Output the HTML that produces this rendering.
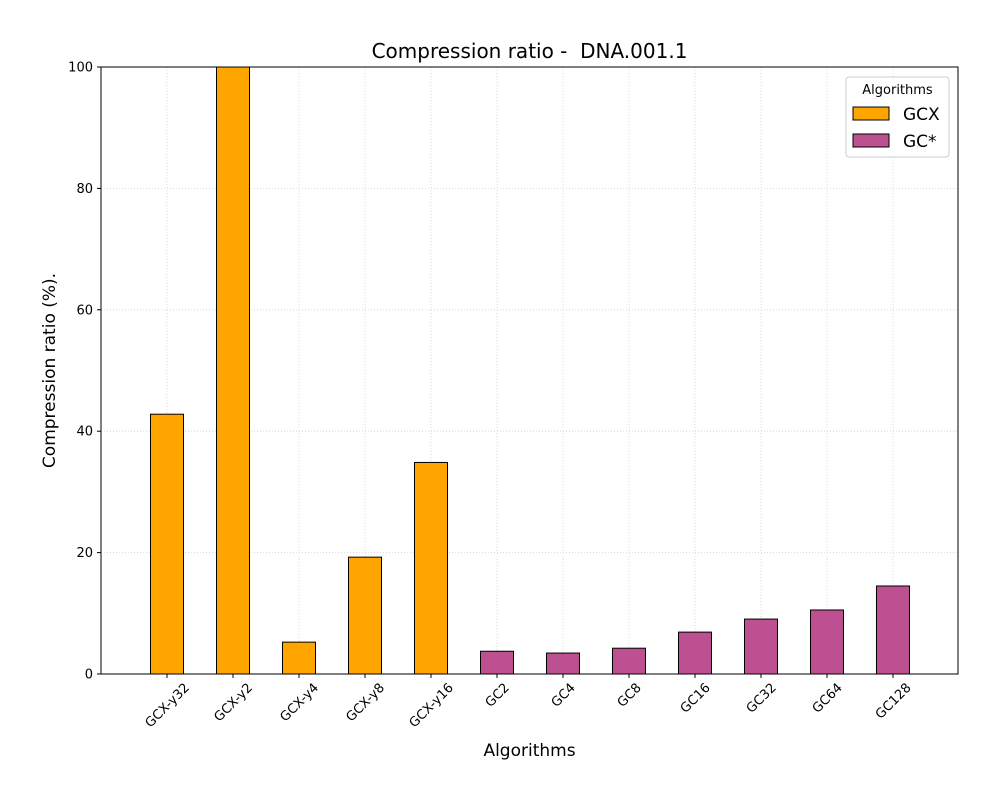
<!DOCTYPE html>
<html><head><meta charset="utf-8"><style>
body{margin:0;background:#fff;}
svg{display:block;font-family:"DejaVu Sans","Liberation Sans",sans-serif;}
</style></head><body>
<svg id="chart" width="1000" height="800"></svg>
<script>
const categories=["GCX-y32","GCX-y2","GCX-y4","GCX-y8","GCX-y16","GC2","GC4","GC8","GC16","GC32","GC64","GC128"];
const values=[42.8,100,5.25,19.25,34.85,3.75,3.45,4.25,6.9,9.05,10.55,14.5];
const groups=["GCX","GCX","GCX","GCX","GCX","GC*","GC*","GC*","GC*","GC*","GC*","GC*"];
const yTicks=[0,20,40,60,80,100];
const colors={"GCX":"#ffa500","GC*":"#bc5090"};
const L=101,R=958,T=67,B=674;
function xPos(i){return L+(i+1)*(R-L)/12.985;}
function yPos(v){return B-(Math.min(v,100)/100)*(B-T);}
const NS="http://www.w3.org/2000/svg";
const svg=document.getElementById('chart');
function mk(tag,attrs,parent){const e=document.createElementNS(NS,tag);for(const k in attrs)e.setAttribute(k,attrs[k]);(parent||svg).appendChild(e);return e;}
yTicks.forEach(t=>{
 const g=mk('line',{x1:L,x2:R,y1:yPos(t),y2:yPos(t),stroke:'#d0d0d0','stroke-width':0.8,'stroke-dasharray':'1,2'});
 
 
});
categories.forEach((c,i)=>{
 const g=mk('line',{x1:xPos(i),x2:xPos(i),y1:T,y2:B,stroke:'#d0d0d0','stroke-width':0.8,'stroke-dasharray':'1,2'});
 
 
});
const bw=33;
categories.forEach((c,i)=>{
 const y=yPos(values[i]);
 const r=mk('rect',{x:xPos(i)-bw/2,y:y,width:bw,height:B-y,fill:colors[groups[i]],stroke:'#000','stroke-width':1});
 
 
});
const fr=mk('rect',{x:L,y:T,width:R-L,height:B-T,fill:'none',stroke:'#000','stroke-width':1});


yTicks.forEach(t=>{
 mk('line',{x1:L-4,x2:L,y1:yPos(t),y2:yPos(t),stroke:'#000'});
 const tx=mk('text',{x:L-8,y:yPos(t)+4.5,'text-anchor':'end','font-size':13});
 tx.textContent=t;
 
 
});
categories.forEach((c,i)=>{
 const x=xPos(i);
 mk('line',{x1:x,x2:x,y1:B,y2:B+4,stroke:'#000'});
 const tx=mk('text',{x:0,y:0,'text-anchor':'middle','font-size':13});
 tx.textContent=c;
 
 
 const w=tx.getComputedTextLength();
 const h=12;
 const bh=(w+h)*0.7071;
 const cy=B+7+bh/2;
 tx.setAttribute('transform',`translate(${x} ${cy}) rotate(-45) translate(0 4.5)`);
});
</script>
<script>
(function(){
const NS="http://www.w3.org/2000/svg";const svg=document.getElementById('chart');
function mk(tag,attrs,txt){const e=document.createElementNS(NS,tag);for(const k in attrs)e.setAttribute(k,attrs[k]);if(txt)e.textContent=txt;svg.appendChild(e);return e;}
let e;
e=mk('text',{x:529.5,y:58,'text-anchor':'middle','font-size':20,style:'white-space:pre'},'Compression ratio -  DNA.001.1');


e=mk('text',{x:529.5,y:756,'text-anchor':'middle','font-size':17},'Algorithms');


e=mk('text',{x:55,y:370.5,'text-anchor':'middle','font-size':17,transform:'rotate(-90 55 370.5)'},'Compression ratio (%).');


e=mk('rect',{x:846,y:77,width:103,height:80,rx:3,fill:'#fff','fill-opacity':0.8,stroke:'#ccc'});


e=mk('text',{x:897.5,y:94,'text-anchor':'middle','font-size':13},'Algorithms');


e=mk('rect',{x:853,y:107,width:36,height:13,fill:'#ffa500',stroke:'#000'});


e=mk('text',{x:903,y:120,'font-size':17},'GCX');


e=mk('rect',{x:853,y:134,width:36,height:13,fill:'#bc5090',stroke:'#000'});


e=mk('text',{x:903,y:147,'font-size':17},'GC*');


})();
</script>
</body></html>
